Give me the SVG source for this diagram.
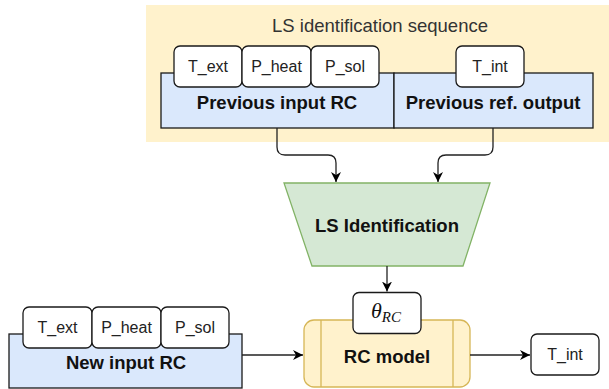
<svg xmlns="http://www.w3.org/2000/svg" width="609" height="389" viewBox="0 0 609 389">
<defs>
<marker id="arr" markerUnits="userSpaceOnUse" markerWidth="11" markerHeight="11" refX="10" refY="5" orient="auto">
<path d="M0,0 L10,5 L0,10 L3,5 z" fill="#000"/>
</marker>
<style>
.blue{fill:#dae8fc;stroke:#1a1a1a;stroke-width:1.3}
.tab{fill:#fff;stroke:#1a1a1a;stroke-width:1.3}
.tt{font-family:"Liberation Sans",Arial,sans-serif;font-size:16px;fill:#222;text-anchor:middle}
.bt{font-family:"Liberation Sans",Arial,sans-serif;font-size:18.5px;font-weight:bold;fill:#111;text-anchor:middle}
.conn{fill:none;stroke:#222;stroke-width:1.3;marker-end:url(#arr)}
</style>
</defs>
<g id="sequence">
<rect x="146" y="5" width="463" height="137" fill="#fff2cc"/>
<text x="380" y="32" font-family="Liberation Sans, Arial, sans-serif" font-size="18.5" fill="#333" text-anchor="middle">LS identification sequence</text>
</g>
<g id="prev-input">
<rect class="blue" x="161" y="73" width="233" height="55"/>
<text class="bt" x="277" y="109">Previous input RC</text>
</g>
<g id="prev-output">
<rect class="blue" x="394" y="73" width="199" height="55"/>
<text class="bt" x="493" y="109">Previous ref. output</text>
</g>
<g id="tab-text-top">
<rect class="tab" x="174" y="46" width="68" height="41" rx="6"/>
<text class="tt" x="208" y="72">T_ext</text>
</g>
<g id="tab-pheat-top">
<rect class="tab" x="242" y="46" width="69" height="41" rx="6"/>
<text class="tt" x="276.5" y="72">P_heat</text>
</g>
<g id="tab-psol-top">
<rect class="tab" x="311" y="46" width="68" height="41" rx="6"/>
<text class="tt" x="345" y="72">P_sol</text>
</g>
<g id="tab-tint-top">
<rect class="tab" x="456" y="46" width="68" height="41" rx="6"/>
<text class="tt" x="490" y="72">T_int</text>
</g>
<g id="ls-identification">
<polygon points="284,183 490,183 463,266 312,266" fill="#d5e8d4" stroke="#82b366" stroke-width="1.3"/>
<text class="bt" x="387" y="232">LS Identification</text>
</g>
<g id="rc-model">
<rect x="304" y="320" width="166" height="67" rx="10" fill="#fff2cc" stroke="#d6b656" stroke-width="1.3"/>
<line x1="321" y1="320" x2="321" y2="387" stroke="#d6b656" stroke-width="1.3"/>
<line x1="453" y1="320" x2="453" y2="387" stroke="#d6b656" stroke-width="1.3"/>
<text class="bt" x="387" y="363">RC model</text>
</g>
<g id="theta">
<rect class="tab" x="353" y="292.5" width="68" height="41" rx="6"/>
<text x="386" y="318" font-family="Liberation Serif, 'Times New Roman', serif" font-style="italic" font-size="22" fill="#111" text-anchor="middle">θ<tspan font-size="15" dy="4">RC</tspan></text>
</g>
<g id="new-input">
<rect class="blue" x="9" y="334" width="233" height="54"/>
<text class="bt" x="126" y="369">New input RC</text>
</g>
<g id="tab-text-bottom">
<rect class="tab" x="23" y="307" width="69" height="41" rx="6"/>
<text class="tt" x="57.5" y="333">T_ext</text>
</g>
<g id="tab-pheat-bottom">
<rect class="tab" x="92" y="307" width="69" height="41" rx="6"/>
<text class="tt" x="126.5" y="333">P_heat</text>
</g>
<g id="tab-psol-bottom">
<rect class="tab" x="161" y="307" width="68" height="41" rx="6"/>
<text class="tt" x="195" y="333">P_sol</text>
</g>
<g id="tint-out">
<rect class="tab" x="531" y="334" width="68" height="41" rx="6"/>
<text class="tt" x="565" y="360">T_int</text>
</g>
<g id="connectors">
<path class="conn" d="M277,128 V147 Q277,155 285,155 H328 Q336,155 336,163 V182"/>
<path class="conn" d="M493,128 V147 Q493,155 485,155 H446 Q438,155 438,163 V182"/>
<path class="conn" d="M387,266 V291.5"/>
<path class="conn" d="M242,355 H303"/>
<path class="conn" d="M470,355 H530"/>
</g>
</svg>
